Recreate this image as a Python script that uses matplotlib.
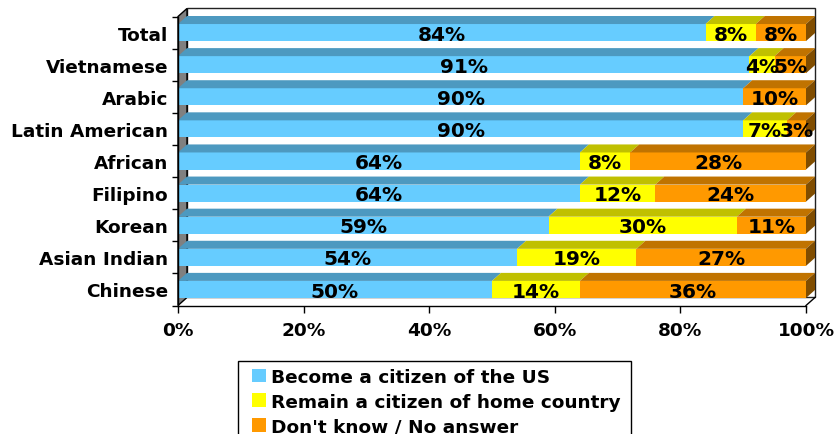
import matplotlib.pyplot as plt
from matplotlib.patches import Patch, Rectangle
import numpy as np

groups = ['Total', 'Vietnamese', 'Arabic', 'Latin American', 'African',
          'Filipino', 'Korean', 'Asian Indian', 'Chinese']
become_us = [84, 91, 90, 90, 64, 64, 59, 54, 50]
remain_home = [8, 4, 0, 7, 8, 12, 30, 19, 14]
dont_know = [8, 5, 10, 3, 28, 24, 11, 27, 36]
series_names = ['Become a citizen of the US',
                'Remain a citizen of home country',
                "Don't know / No answer"]
xticks = [0, 20, 40, 60, 80, 100]

front = ['#66ccff', '#ffff00', '#ff9900']
top = ['#4d99c0', '#c0c000', '#c07300']
side = '#804d00'

fig = plt.figure(figsize=(8.4, 4.35), dpi=100)
ax = fig.add_axes([178 / 840, (435 - 306.5) / 435, 628 / 840, 289 / 435])
ax.set_xlim(0, 100)
ax.set_ylim(-0.5, 8.5)

# fake 3d depth, in data units
dx = 9 * 100 / 628
dy = 8 / 32
h = 17 / 32
ylo, yhi = -0.5, 8.5

# back wall, side wall and floor edges
ax.fill([dx, 100 + dx, 100 + dx, dx], [ylo + dy, ylo + dy, yhi + dy, yhi + dy],
        facecolor='white', edgecolor='#222222', lw=1, clip_on=False, zorder=0.5)
ax.fill([0, dx, dx, 0], [ylo, ylo + dy, yhi + dy, yhi],
        facecolor='#808080', edgecolor='black', lw=1, clip_on=False, zorder=0.6)
ax.plot([100, 100 + dx], [ylo, ylo + dy], color='black', lw=1, clip_on=False, zorder=0.7)

ypos = np.arange(len(groups))[::-1]
series = [become_us, remain_home, dont_know]
lefts = np.zeros(len(groups))
for k, vals in enumerate(series):
    vals = np.array(vals, dtype=float)
    ax.barh(ypos, vals, left=lefts, height=h, color=front[k], zorder=2)
    for y, x0, v in zip(ypos, lefts, vals):
        if v == 0:
            continue
        x1 = x0 + v
        t = y + h / 2
        ax.fill([x0, x1, x1 + dx, x0 + dx], [t, t, t + dy, t + dy],
                facecolor=top[k], edgecolor='none', clip_on=False, zorder=2)
        if k == len(series) - 1:
            b = y - h / 2
            ax.fill([x1, x1 + dx, x1 + dx, x1], [b, b + dy, t + dy, t],
                    facecolor=side, edgecolor='none', clip_on=False, zorder=2)
        ax.text(x0 + v / 2, y - 0.05, f'{int(v)}%', ha='center', va='center',
                fontsize=14.5, fontweight='bold', zorder=5)
    lefts = lefts + vals

ax.set_yticks(ypos, groups, fontsize=13.3, fontweight='bold')
ax.set_yticks(np.arange(ylo, yhi + 1, 1), minor=True)
ax.tick_params(axis='y', which='major', length=0, pad=7)
ax.tick_params(axis='y', which='minor', length=4, width=1, color='black')
ax.set_xticks(xticks, [f'{t}%' for t in xticks], fontsize=13.3, fontweight='bold')
ax.tick_params(axis='x', length=5, width=1, pad=6, color='black')

for s in ['top', 'right']:
    ax.spines[s].set_visible(False)
for s in ['left', 'bottom']:
    ax.spines[s].set_color('black')
    ax.spines[s].set_linewidth(1)
    ax.spines[s].set_zorder(3)

# legend box runs off the bottom edge
fig.patches.append(Rectangle((238 / 840, -0.05), (631 - 238) / 840, 0.05 + 1 - 362 / 435,
                             transform=fig.transFigure, facecolor='white',
                             edgecolor='black', lw=1, zorder=1))
handles = [Patch(facecolor=c, edgecolor='none') for c in front]
leg = fig.legend(handles, series_names, loc='upper left',
                 bbox_to_anchor=(252 / 840, 1 - 369 / 435),
                 prop={'size': 13.3, 'weight': 'bold'},
                 frameon=False, handlelength=0.75, handleheight=0.75,
                 handletextpad=0.3, labelspacing=0.36, borderpad=0,
                 borderaxespad=0)
leg.set_zorder(2)

fig.savefig('out.png', dpi=100)
